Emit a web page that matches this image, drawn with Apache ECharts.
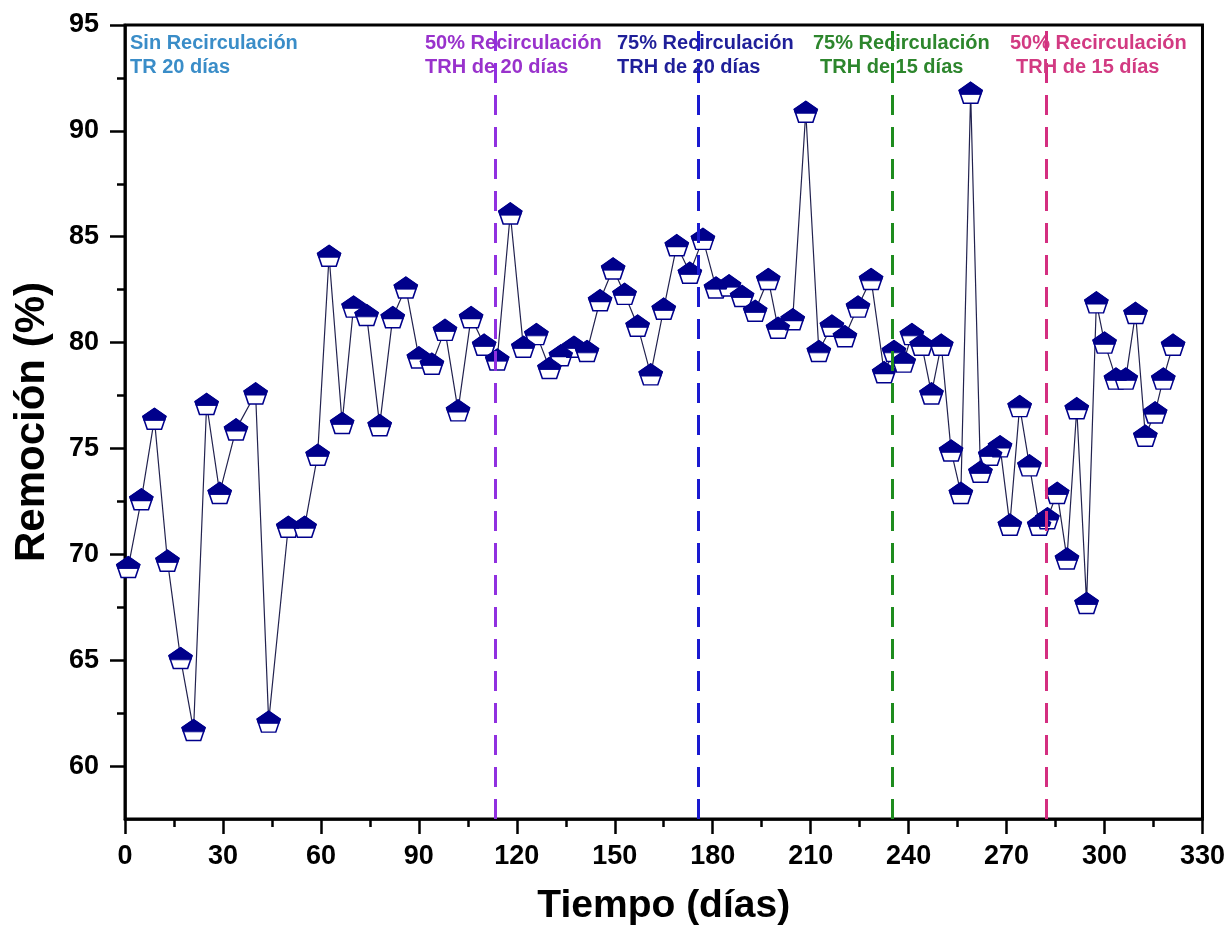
<!DOCTYPE html>
<html>
<head>
<meta charset="utf-8">
<title>Remoción vs Tiempo</title>
<script src="https://cdn.jsdelivr.net/npm/echarts@6/dist/echarts.min.js"></script>
<style>
  html, body { margin: 0; padding: 0; background: #fff; }
  #chart { width: 1228px; height: 937px; }
</style>
</head>
<body>
<div id="chart"></div>
<script>
// data
var days = [1, 5, 9, 13, 17, 21, 25, 29, 34, 40, 44, 50, 55, 59, 62.5, 66.5, 70, 74, 78, 82,
  86, 90, 94, 98, 102, 106, 110, 114, 118, 122, 126, 130, 133.5, 137.5, 141.5, 145.5, 149.5, 153, 157, 161,
  165, 169, 173, 177, 181, 185, 189, 193, 197, 200, 204.5, 208.5, 212.5, 216.5, 220.5, 224.5, 228.5, 232.5, 235.5, 238.5,
  241, 244, 247, 250, 253, 256, 259, 262, 265, 268, 271, 274, 277, 280, 282.5, 285.5, 288.5, 291.5, 294.5, 297.5,
  300, 303.5, 306.5, 309.5, 312.5, 315.5, 318, 321];
var removal = [69.4, 72.6, 76.4, 69.7, 65.1, 61.7, 77.1, 72.9, 75.9, 77.6, 62.1, 71.3, 71.3, 74.7, 84.1, 76.2, 81.7, 81.3, 76.1, 81.2,
  82.6, 79.3, 79.0, 80.6, 76.8, 81.2, 79.9, 79.2, 86.1, 79.8, 80.4, 78.8, 79.4, 79.8, 79.6, 82.0, 83.5, 82.3, 80.8, 78.5,
  81.6, 84.6, 83.3, 84.9, 82.6, 82.7, 82.2, 81.5, 83.0, 80.7, 81.1, 90.9, 79.6, 80.8, 80.3, 81.7, 83.0, 78.6, 79.6, 79.1,
  80.4, 79.9, 77.6, 79.9, 74.9, 72.9, 91.8, 73.9, 74.7, 75.1, 71.4, 77.0, 74.2, 71.4, 71.7, 72.9, 69.8, 76.9, 67.7, 81.9,
  80.0, 78.3, 78.3, 81.4, 75.6, 76.7, 78.3, 79.9];

// phase changes
var phaseDays = [113.5, 175.5, 235, 282];
var phaseLineColors = ['#9030e0', '#1a1ad0', '#1e8c1e', '#d42e80'];
var phaseTitles = ['Sin Recirculación', '50% Recirculación', '75% Recirculación', '75% Recirculación', '50% Recirculación'];
var phaseSubtitles = ['TR 20 días', 'TRH de 20 días', 'TRH de 20 días', 'TRH de 15 días', 'TRH de 15 días'];
var phaseTextColors = ['#3a8dc8', '#9932cc', '#1f1f99', '#2d862d', '#d23a82'];

var yMajorTicks = [60, 65, 70, 75, 80, 85, 90, 95];
var yMinorTicks = [62.5, 67.5, 72.5, 77.5, 82.5, 87.5, 92.5];

var font = '"Liberation Sans", Arial, sans-serif';
var navy = '#00008b';

// pentagon marker: white body, navy top part drawn by a second series
var pentagon = 'path://M1000,0L1951,691L1588,1809L412,1809L49,691Z';
var pentagonTop = 'path://M1000,0L1951,691L1835,1050L165,1050L49,691Z';

var points = [];
for (var i = 0; i < days.length; i++) {
  points.push([days[i], removal[i]]);
}

var textLeft1 = [130, 425, 617, 813, 1010];
var textLeft2 = [130, 425, 617, 820, 1016];
var graphics = [];
for (var k = 0; k < phaseTitles.length; k++) {
  graphics.push({
    type: 'text', left: textLeft1[k], top: 33, z: 100,
    style: { text: phaseTitles[k], fill: phaseTextColors[k], font: 'bold 20px ' + font }
  });
  graphics.push({
    type: 'text', left: textLeft2[k], top: 57, z: 100,
    style: { text: phaseSubtitles[k], fill: phaseTextColors[k], font: 'bold 20px ' + font }
  });
}

var chart = echarts.init(document.getElementById('chart'));

var axisFont = { color: '#000', fontSize: 27, fontWeight: 'bold', fontFamily: font };

chart.setOption({
  animation: false,
  backgroundColor: '#fff',
  grid: {
    left: 125, right: 21, top: 25, bottom: 118,
    show: true, borderColor: '#000', borderWidth: 3
  },
  xAxis: {
    type: 'value', min: 0, max: 330, interval: 30,
    name: 'Tiempo (días)', nameLocation: 'middle', nameGap: 68,
    nameTextStyle: { color: '#000', fontSize: 39, fontWeight: 'bold', fontFamily: font },
    axisLine: { lineStyle: { color: '#000', width: 2.5 } },
    axisTick: { length: 15, lineStyle: { color: '#000', width: 2.5 } },
    minorTick: { show: true, splitNumber: 2, length: 8, lineStyle: { color: '#000', width: 2.5 } },
    axisLabel: Object.assign({ margin: 24 }, axisFont),
    splitLine: { show: false }
  },
  yAxis: [{
    type: 'value', min: 57.5, max: 95,
    name: 'Remoción (%)', nameLocation: 'middle', nameGap: 72,
    nameTextStyle: { color: '#000', fontSize: 42, fontWeight: 'bold', fontFamily: font },
    axisLine: { show: true, lineStyle: { color: '#000', width: 2.5 } },
    axisTick: { show: true, customValues: yMajorTicks, length: 15, lineStyle: { color: '#000', width: 2.5 } },
    axisLabel: Object.assign({ margin: 26, customValues: yMajorTicks }, axisFont),
    splitLine: { show: false }
  }, {
    type: 'value', min: 57.5, max: 95, position: 'left', offset: 0,
    axisLine: { show: false },
    axisTick: { show: true, customValues: yMinorTicks, length: 8, lineStyle: { color: '#000', width: 2.5 } },
    axisLabel: { show: false },
    splitLine: { show: false }
  }],
  graphic: graphics,
  series: [{
    type: 'line',
    data: points,
    symbol: pentagon,
    symbolSize: [23, 21],
    showAllSymbol: true,
    lineStyle: { color: '#22224f', width: 1.2 },
    itemStyle: { color: '#fff', borderColor: navy, borderWidth: 1.5 },
    z: 3,
    markLine: {
      silent: true,
      symbol: 'none',
      label: { show: false },
      data: phaseDays.map(function (d, i) {
        return { xAxis: d, lineStyle: { color: phaseLineColors[i], type: [20, 12], width: 3 } };
      })
    }
  }, {
    type: 'scatter',
    data: points,
    symbol: pentagonTop,
    symbolSize: [23, 12.2],
    symbolOffset: [0, -4.4],
    itemStyle: { color: navy, borderColor: navy, borderWidth: 1, opacity: 1 },
    z: 4
  }]
});
</script>
</body>
</html>
